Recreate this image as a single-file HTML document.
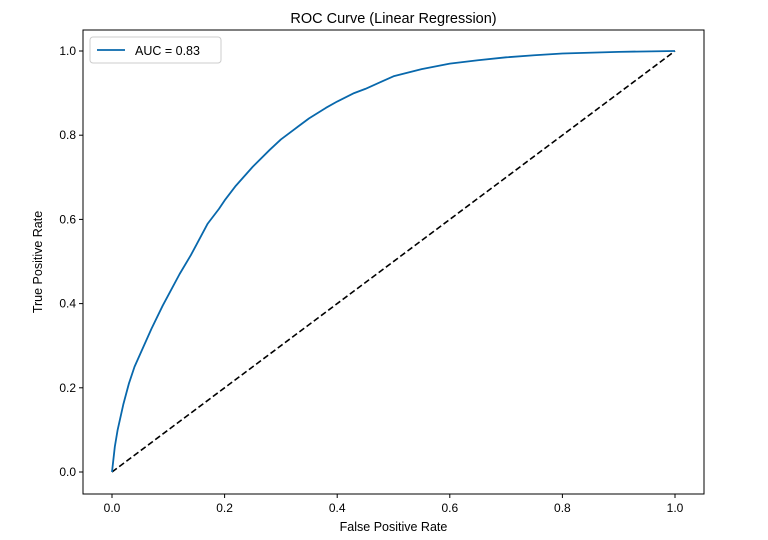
<!DOCTYPE html>
<html><head><meta charset="utf-8"><style>
body{margin:0;background:#fff;}
svg text{font-family:"Liberation Sans","DejaVu Sans",sans-serif;fill:#000;}
</style></head><body>
<svg id="chart" width="768" height="535" xmlns="http://www.w3.org/2000/svg">
<rect x="0" y="0" width="768" height="535" fill="#fff"/>
<g id="plot"></g>
</svg>
<script>
const fprValues=[0,0.005,0.01,0.02,0.03,0.04,0.05,0.07,0.09,0.1,0.12,0.14,0.15,0.17,0.19,0.2,0.22,0.25,0.28,0.3,0.33,0.35,0.38,0.4,0.43,0.45,0.48,0.5,0.55,0.6,0.65,0.7,0.75,0.8,0.9,1];
const tprValues=[0,0.06,0.1,0.16,0.21,0.25,0.28,0.34,0.395,0.42,0.47,0.515,0.54,0.59,0.625,0.645,0.68,0.725,0.765,0.79,0.82,0.84,0.865,0.88,0.9,0.91,0.928,0.94,0.957,0.97,0.978,0.985,0.99,0.994,0.998,1];
const xTicks=[0,0.2,0.4,0.6,0.8,1.0];
const yTicks=[0,0.2,0.4,0.6,0.8,1.0];
const NS="http://www.w3.org/2000/svg";
const g=document.getElementById('plot');
const L=83,R=704,T=30,B=494;
function sx(v){return 112+v*563;}
function sy(v){return 472-v*421;}
function mk(tag,attrs,txt){const e=document.createElementNS(NS,tag);for(const k in attrs)e.setAttribute(k,attrs[k]);if(txt!==undefined)e.textContent=txt;g.appendChild(e);return e;}
let e;
e=mk('rect',{x:L,y:T,width:R-L,height:B-T,fill:'none',stroke:'#000','stroke-width':1});


xTicks.forEach(t=>{
 e=mk('line',{x1:sx(t),x2:sx(t),y1:B,y2:B+4,stroke:'#000'});
 
 
 e=mk('text',{x:sx(t),y:B+18,'text-anchor':'middle','font-size':'12'},t.toFixed(1));
 
 
});
yTicks.forEach(t=>{
 e=mk('line',{x1:L-4,x2:L,y1:sy(t),y2:sy(t),stroke:'#000'});
 
 
 e=mk('text',{x:L-7,y:sy(t)+4,'text-anchor':'end','font-size':'12'},t.toFixed(1));
 
 
});
e=mk('line',{x1:sx(0),y1:sy(0),x2:sx(1),y2:sy(1),stroke:'#000','stroke-width':1.6,'stroke-dasharray':'6,3'});


e=mk('polyline',{points:fprValues.map((v,i)=>sx(v)+','+sy(tprValues[i])).join(' '),fill:'none',stroke:'#0868ac','stroke-width':1.8,'stroke-linejoin':'round'});


e=mk('text',{x:(L+R)/2,y:23,'text-anchor':'middle','font-size':'14.5'},'ROC Curve (Linear Regression)');


e=mk('text',{x:(L+R)/2,y:531,'text-anchor':'middle','font-size':'12.5'},'False Positive Rate');


e=mk('text',{x:42,y:262,'text-anchor':'middle','font-size':'12.5',transform:'rotate(-90 42 262)'},'True Positive Rate');


e=mk('rect',{x:90,y:37,width:131,height:26,rx:3,fill:'#fff',stroke:'#ccc'});


e=mk('line',{x1:97,x2:125,y1:50,y2:50,stroke:'#0868ac','stroke-width':1.8});


e=mk('text',{x:135,y:55,'font-size':'12.5'},'AUC = 0.83');


</script>
</body></html>
